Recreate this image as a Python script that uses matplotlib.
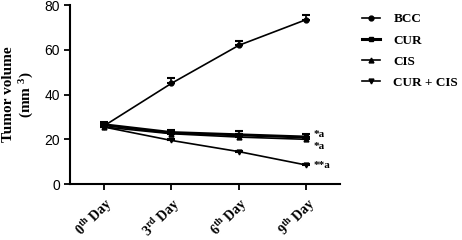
import matplotlib.pyplot as plt
import numpy as np

days = ["0$^{th}$ Day", "3$^{rd}$ Day", "6$^{th}$ Day", "9$^{th}$ Day"]
bcc = [26.0, 45.0, 62.0, 73.5]
bcc_err = [1.5, 2.5, 1.8, 2.2]
cur = [26.5, 23.0, 22.0, 21.0]
cur_err = [1.2, 1.0, 1.5, 1.5]
cis = [25.5, 22.5, 21.0, 20.0]
cis_err = [1.0, 1.0, 1.2, 1.0]
combo = [25.5, 19.5, 14.5, 8.5]
combo_err = [0.8, 0.6, 0.5, 0.5]
marks = ["*a", "*a", "**a"]
mark_y = [22.3, 17.0, 8.5]

serif = "Liberation Serif"
sans = "Liberation Sans"
plt.rcParams["mathtext.fontset"] = "custom"
plt.rcParams["mathtext.rm"] = "Liberation Serif:bold"
plt.rcParams["mathtext.it"] = "Liberation Serif:bold"
plt.rcParams["mathtext.default"] = "regular"

fig = plt.figure(figsize=(4.62, 2.40), dpi=100)
ax = fig.add_axes([0.152, 0.233, 0.584, 0.746])
x = np.arange(len(days))

series = [("BCC", bcc, bcc_err, "o", 1.2),
          ("CUR", cur, cur_err, "s", 2.2),
          ("CIS", cis, cis_err, "^", 1.2),
          ("CUR + CIS", combo, combo_err, "v", 1.2)]
handles = []
for label, y, e, m, lw in series:
    c = ax.errorbar(x, y, yerr=[np.zeros(len(e)), e], color="black", lw=lw,
                    marker=m, markersize=3.5, capsize=3, elinewidth=1.2,
                    capthick=1.5, label=label)
    handles.append(c[0])

for t, yy in zip(marks, mark_y):
    ax.text(3.1, yy, t, fontsize=8, fontfamily=serif, fontweight="bold",
            va="center", ha="left")

ax.set_xlim(-0.5, 3.5)
ax.set_ylim(0, 80)
ax.set_yticks([0, 20, 40, 60, 80])
ax.set_xticks(x)
ax.set_xticklabels(days, rotation=45, ha="right", rotation_mode="anchor",
                   fontfamily=serif, fontweight="bold", fontsize=10)
for lab in ax.get_yticklabels():
    lab.set_fontfamily(sans)
    lab.set_fontsize(10)
ax.spines[["top", "right"]].set_visible(False)
ax.spines[["left", "bottom"]].set_linewidth(1.5)
ax.tick_params(width=1.3, length=4)
ax.set_ylabel("Tumor volume\n(mm $^{3}$)", fontfamily=serif,
              fontweight="bold", fontsize=11, va="center")
ax.yaxis.set_label_coords(-0.19, 0.5)

fig.legend(handles, [s[0] for s in series], loc="upper left",
           bbox_to_anchor=(0.757, 0.995), frameon=False,
           handlelength=1.4, handletextpad=1.0, labelspacing=0.68,
           prop={"family": serif, "weight": "bold", "size": 9.5})
fig.savefig("out.png", dpi=100)
